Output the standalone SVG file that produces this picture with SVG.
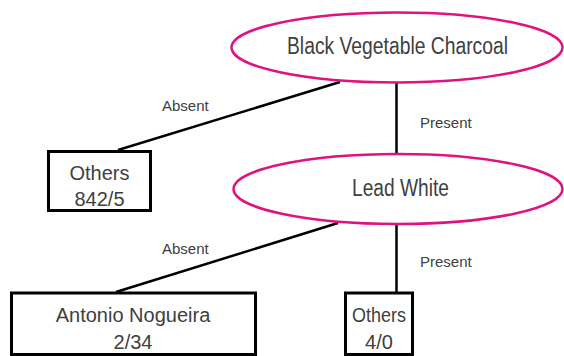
<svg xmlns="http://www.w3.org/2000/svg" width="564" height="356" viewBox="0 0 564 356">
<style>
.ell{fill:#fff;stroke:#e0127f;stroke-width:2.5}
.box{fill:#fff;stroke:#000;stroke-width:3}
.edge{stroke:#000;stroke-width:2.5;fill:none}
.nt{font-family:"Liberation Sans",Arial,sans-serif;font-size:20px;fill:#404040;text-anchor:middle}
.et{font-family:"Liberation Sans",Arial,sans-serif;font-size:23px;fill:#404040;text-anchor:middle}
.lbl{font-family:"Liberation Sans",Arial,sans-serif;font-size:15px;fill:#404040;text-anchor:start}
</style>
<rect width="564" height="356" fill="#fff"/>
<g id="connectors">
<line class="edge" x1="340" y1="82" x2="118" y2="150"/>
<line class="edge" x1="396.5" y1="83" x2="396.5" y2="154"/>
<line class="edge" x1="338" y1="223" x2="116" y2="292"/>
<line class="edge" x1="396.5" y1="224" x2="396.5" y2="292"/>
<text class="lbl" x="162" y="111">Absent</text>
<text class="lbl" x="420" y="128">Present</text>
<text class="lbl" x="162" y="254">Absent</text>
<text class="lbl" x="420" y="267">Present</text>
</g>
<g id="n1">
<ellipse class="ell" cx="397" cy="47.5" rx="165.5" ry="35"/>
<text class="et" x="397.5" y="53.5" textLength="221" lengthAdjust="spacingAndGlyphs">Black Vegetable Charcoal</text>
</g>
<g id="n2">
<ellipse class="ell" cx="398" cy="189" rx="164.5" ry="35"/>
<text class="et" x="400.5" y="196" textLength="97" lengthAdjust="spacingAndGlyphs">Lead White</text>
</g>
<g id="n3">
<rect class="box" x="48.5" y="151.5" width="102" height="59"/>
<text class="nt" x="99.5" y="179.5">Others</text>
<text class="nt" x="99.5" y="205.5">842/5</text>
</g>
<g id="n4">
<rect class="box" x="11.5" y="293" width="244" height="61.5"/>
<text class="nt" x="133" y="322">Antonio Nogueira</text>
<text class="nt" x="133" y="348.5">2/34</text>
</g>
<g id="n5">
<rect class="box" x="345.5" y="293" width="67" height="61.5"/>
<text class="nt" x="379" y="322" textLength="54" lengthAdjust="spacingAndGlyphs">Others</text>
<text class="nt" x="379" y="348.5">4/0</text>
</g>
</svg>
